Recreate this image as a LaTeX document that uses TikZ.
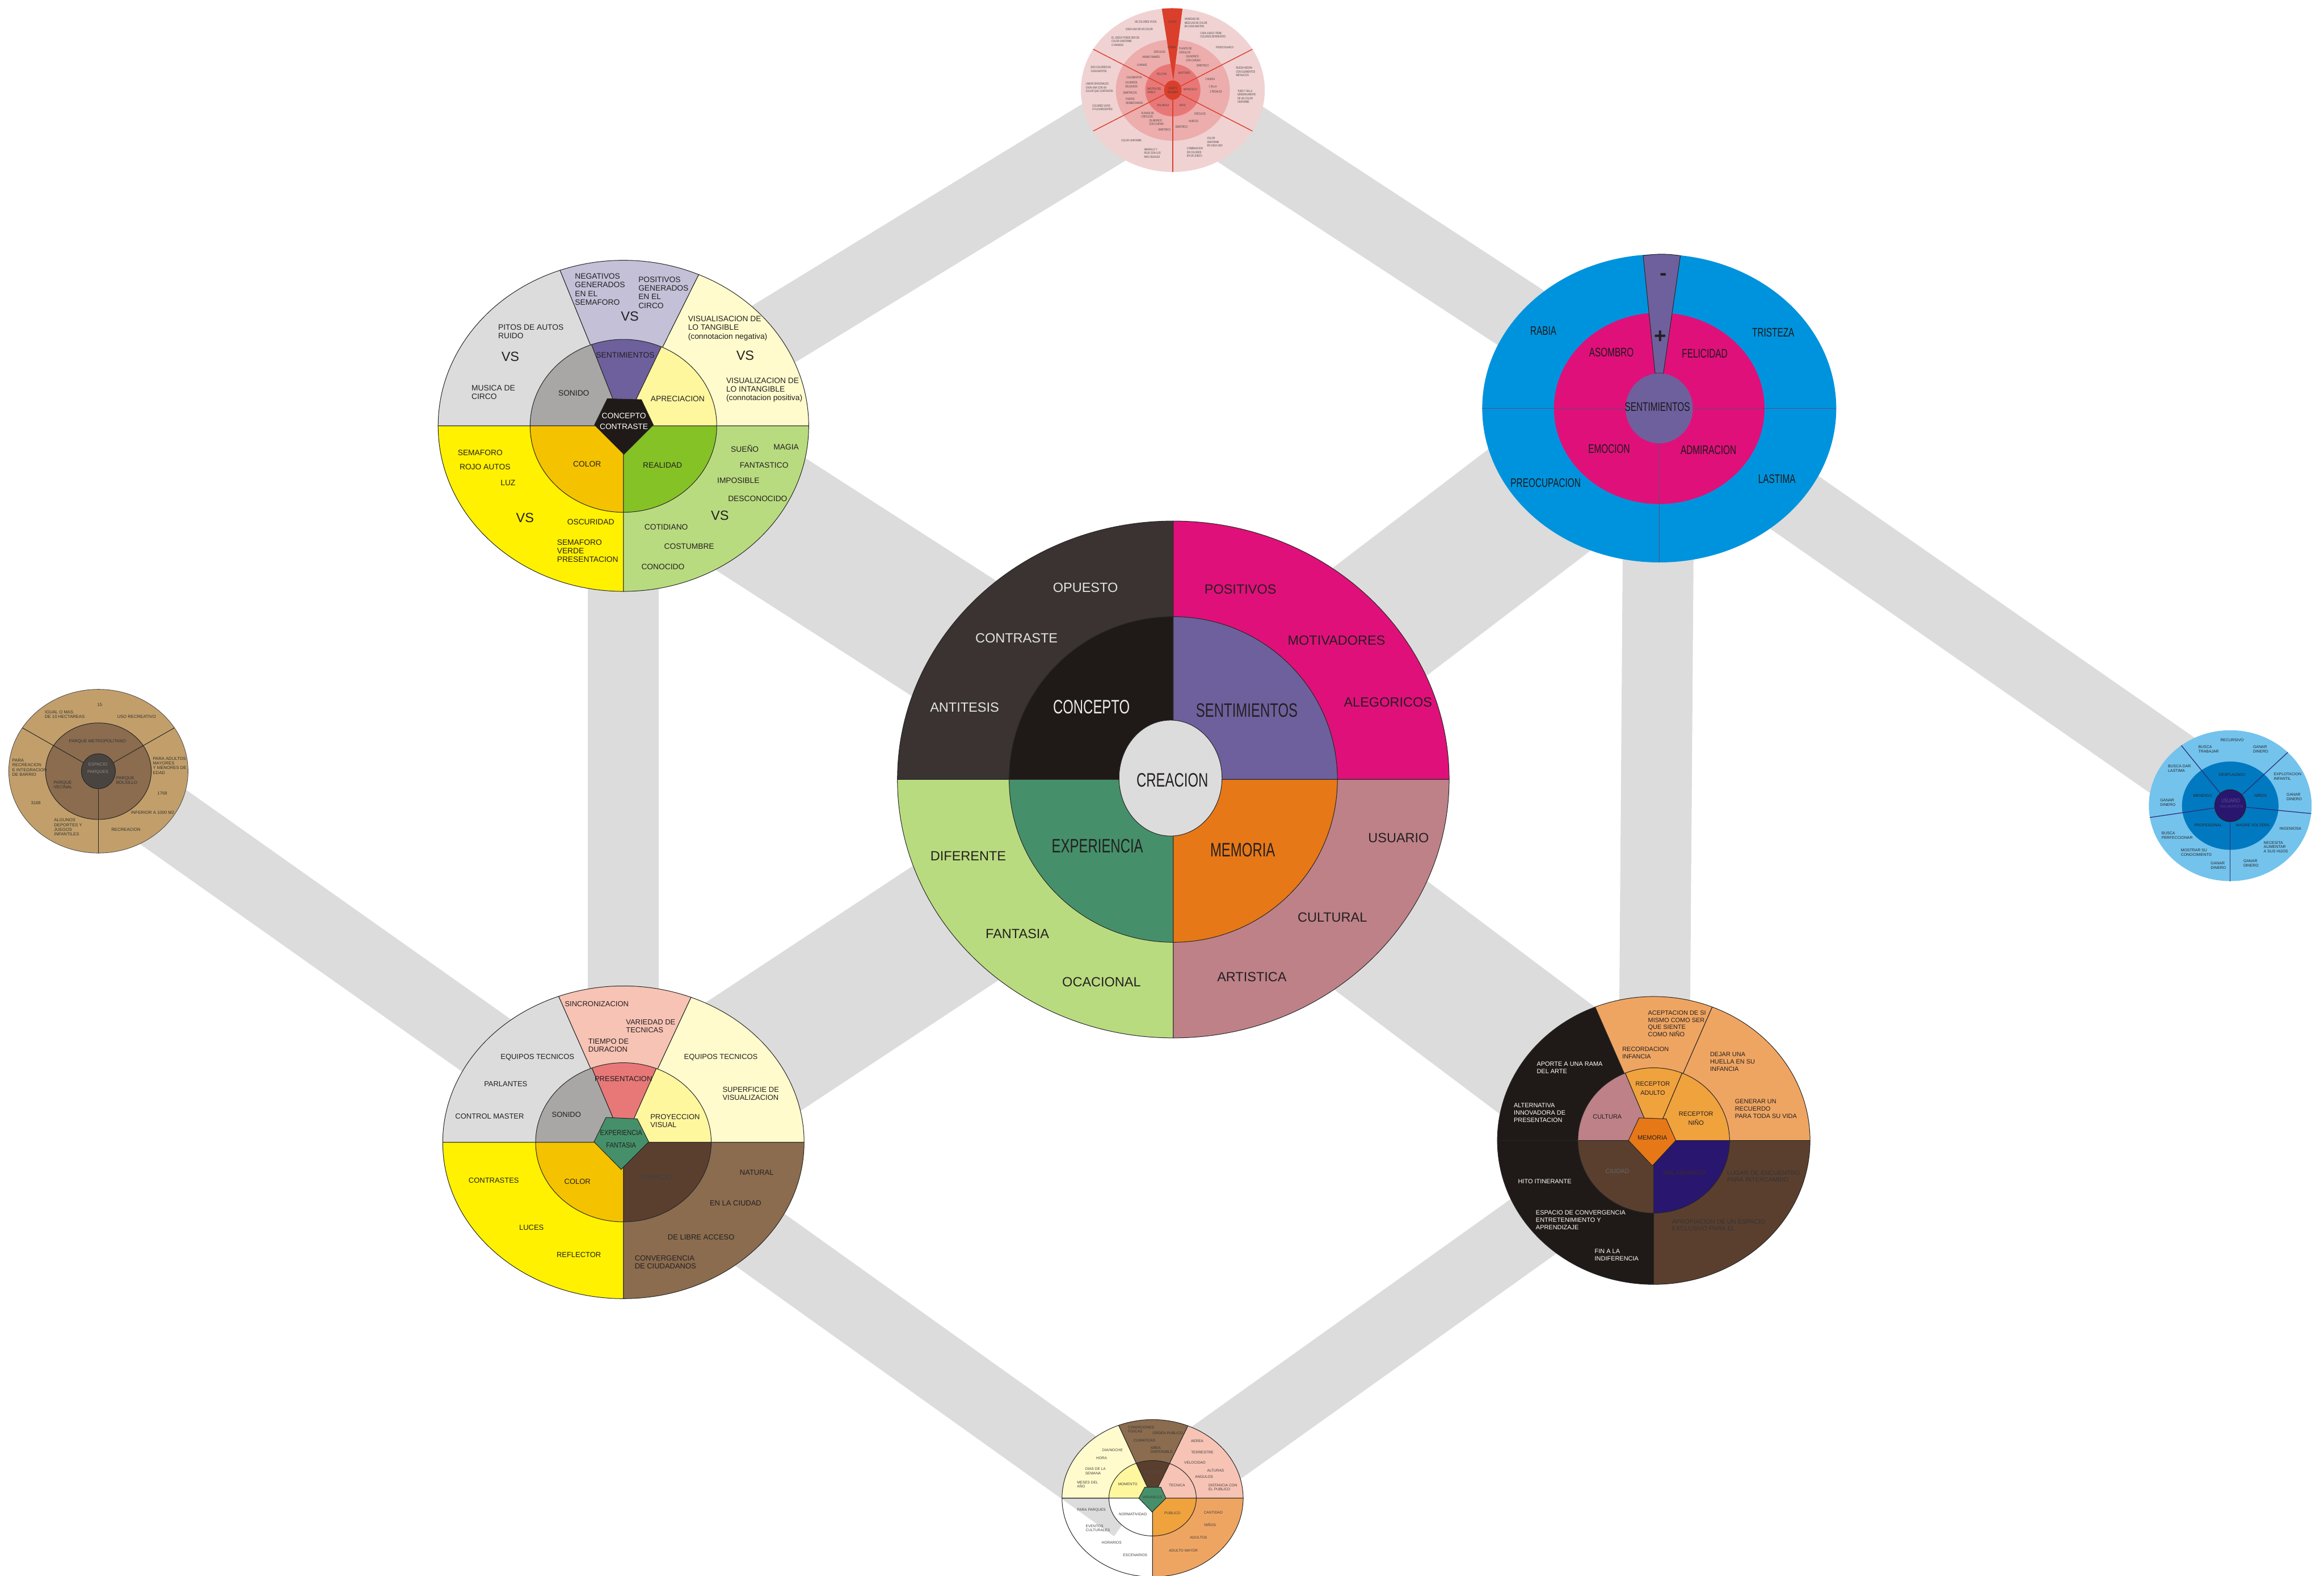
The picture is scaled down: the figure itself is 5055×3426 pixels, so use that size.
\documentclass[tikz,border=0pt]{standalone}
\usepackage{fontspec}
\setmainfont{Liberation Sans}
\newfontfamily\condensed[FakeStretch=0.7]{Liberation Sans}
\newfontfamily\semicondensed[FakeStretch=0.85]{Liberation Sans}

\definecolor{gris}{HTML}{DCDCDC}
\definecolor{grismedio}{HTML}{A8A7A5}
\definecolor{carbon}{HTML}{1F1A17}
\definecolor{pizarra}{HTML}{3A3331}
\definecolor{fucsia}{HTML}{E0107A}
\definecolor{lila}{HTML}{6E609D}
\definecolor{lavanda}{HTML}{C3C0D8}
\definecolor{crema}{HTML}{FFFBCC}
\definecolor{amarillopalido}{HTML}{FFF79E}
\definecolor{amarillo}{HTML}{FFF100}
\definecolor{ambar}{HTML}{F5C200}
\definecolor{verdeclaro}{HTML}{B9DB7F}
\definecolor{verdelima}{HTML}{85C226}
\definecolor{verdemar}{HTML}{45906A}
\definecolor{naranja}{HTML}{E77817}
\definecolor{rosaviejo}{HTML}{BE8188}
\definecolor{salmon}{HTML}{F7C3B4}
\definecolor{coral}{HTML}{E87878}
\definecolor{cafe}{HTML}{8B6C4F}
\definecolor{cafeoscuro}{HTML}{5A3F2F}
\definecolor{durazno}{HTML}{EFA562}
\definecolor{mandarina}{HTML}{F0A23D}
\definecolor{indigo}{HTML}{29166F}
\definecolor{azul}{HTML}{0093DD}
\definecolor{celeste}{HTML}{73C3ED}
\definecolor{azulmedio}{HTML}{0079C1}
\definecolor{rosa}{HTML}{F0D2D2}
\definecolor{rosamedio}{HTML}{ECADAC}
\definecolor{rosafuerte}{HTML}{E87877}
\definecolor{rojo}{HTML}{DA3F2B}
\definecolor{arena}{HTML}{C29F6A}
\definecolor{tierra}{HTML}{4A4440}
\definecolor{tinta}{HTML}{231F20}
\definecolor{marino}{HTML}{2E2F76}

\tikzset{
  rim/.style={draw=black!85, line width=0.35pt},
  band/.style={draw=gris, line width=1.54cm},
  broad band/.style={draw=gris, line width=3.1cm},
  lbl/.style={inner sep=0pt, align=left, text=tinta},
  lft/.style={anchor=west},
  hub/.style={lbl, align=center, font=\condensed\fontsize{12pt}{13pt}\selectfont},
  big/.style={lbl, font=\fontsize{8.25pt}{9.5pt}\selectfont},
  vs/.style={lbl, font=\fontsize{8.25pt}{9pt}\selectfont},
  mid/.style={lbl, font=\fontsize{4.84pt}{5.4pt}\selectfont},
  midb/.style={lbl, font=\fontsize{4.55pt}{4.9pt}\selectfont},
  feel/.style={lbl, text=black!90, font=\condensed\fontsize{7.7pt}{8.5pt}\selectfont},
  mem/.style={lbl, font=\fontsize{3.84pt}{4.5pt}\selectfont},
  juggle/.style={lbl, text=black!75, font=\condensed\fontsize{1.95pt}{2.3pt}\selectfont},
  park/.style={lbl, text=black!80, font=\fontsize{2.7pt}{2.9pt}\selectfont},
  user/.style={lbl, text=black!85, font=\fontsize{2.42pt}{2.75pt}\selectfont},
  vari/.style={lbl, text=black!75, font=\fontsize{2.28pt}{2.56pt}\selectfont},
}

% one ring slice: centre, from, to, x radius, y radius, fill
\newcommand{\wheelslice}[6]{%
  \filldraw[rim, fill=#6] (#1) -- ++(#2:#4 and #5)
    arc[start angle=#2, end angle=#3, x radius=#4, y radius=#5] -- cycle;}

\begin{document}
\begin{tikzpicture}[x=0.01cm, y=0.01cm]
\useasboundingbox (0,0) rectangle (5055,-3426);
\fill[white] (0,0) rectangle (5055,-3426);

% wheel centres
\coordinate (w-creacion) at (2552,-1695);
\coordinate (w-concepto) at (1356,-926);
\coordinate (w-sentimientos) at (3609,-888);
\coordinate (w-experiencia) at (1356,-2484);
\coordinate (w-memoria) at (3597,-2480);
\coordinate (w-objeto) at (2551,-196);
\coordinate (w-parques) at (214,-1677);
\coordinate (w-usuario) at (4851,-1752);
\coordinate (w-variables) at (2507,-3258);
\coordinate (v-fin) at (2468,-3278);

% grey bands behind the wheels
\draw[band] (w-concepto) -- (w-objeto);
\draw[band] (w-objeto) -- (w-sentimientos);
\draw[band] (w-concepto) -- (w-experiencia);
\draw[band] (w-sentimientos) -- (w-memoria);
\draw[band] (w-sentimientos) -- (w-usuario);
\draw[band] (w-parques) -- (w-experiencia);
\draw[band] (w-experiencia) -- (v-fin);
\draw[band] (w-memoria) -- (w-variables);
\draw[broad band] (w-concepto) -- (w-creacion);
\draw[broad band] (w-creacion) -- (w-sentimientos);
\draw[broad band] (w-creacion) -- (w-experiencia);
\draw[broad band] (w-creacion) -- (w-memoria);

% ---- CREACION ----
\foreach \a/\b/\co in {90/180/pizarra, 0/90/fucsia, 180/270/verdeclaro, 270/360/rosaviejo}
  {\wheelslice{w-creacion}{\a}{\b}{600}{562}{\co}}
\foreach \a/\b/\ci in {90/180/carbon, 0/90/lila, 180/270/verdemar, 270/360/naranja}
  {\wheelslice{w-creacion}{\a}{\b}{357}{354}{\ci}}
\filldraw[rim, fill=gris] (2546,-1692) ellipse[x radius=112, y radius=126];

\node[big, text=white!90!black] (c-opuesto) at (2361,-1278) {OPUESTO};
\node[big, text=white!90!black] (c-contraste) at (2211,-1388) {CONTRASTE};
\node[big, text=white!90!black] (c-antitesis) at (2098,-1538) {ANTITESIS};
\node[big] (c-positivos) at (2698,-1281) {POSITIVOS};
\node[big] (c-motivadores) at (2907,-1393) {MOTIVADORES};
\node[big] (c-alegoricos) at (3019,-1527) {ALEGORICOS};
\node[big] (c-usuario) at (3042,-1822) {USUARIO};
\node[big] (c-cultural) at (2898,-1995) {CULTURAL};
\node[big] (c-artistica) at (2723,-2125) {ARTISTICA};
\node[big] (c-diferente) at (2106,-1862) {DIFERENTE};
\node[big] (c-fantasia) at (2213,-2031) {FANTASIA};
\node[big] (c-ocacional) at (2396,-2136) {OCACIONAL};
\node[hub, text=white!92!black] (c-concepto) at (2374,-1537) {CONCEPTO};
\node[hub] (c-sentimientos) at (2712,-1545) {SENTIMIENTOS};
\node[hub] (c-creacion) at (2550,-1696) {CREACION};
\node[hub] (c-experiencia) at (2387,-1840) {EXPERIENCIA};
\node[hub] (c-memoria) at (2703,-1848) {MEMORIA};

% ---- CONCEPTO CONTRASTE ----
\foreach \a/\b/\co in {110/180/gris, 66/110/lavanda, 0/66/crema, 180/270/amarillo, 270/360/verdeclaro}
  {\wheelslice{w-concepto}{\a}{\b}{403}{360}{\co}}
\foreach \a/\b/\ci in {110/180/grismedio, 66/110/lila, 0/66/amarillopalido, 180/270/ambar, 270/360/verdelima}
  {\wheelslice{w-concepto}{\a}{\b}{203}{188}{\ci}}
\filldraw[rim, fill=carbon, shift={(w-concepto)}] (-63,2) -- (-35,59) -- (39,57) -- (65,2) -- (1,-62) -- cycle;

\node[mid, lft] (a-negativos) at (1250,-629) {NEGATIVOS\\GENERADOS\\EN EL\\SEMAFORO};
\node[mid, lft] (a-positivos) at (1388,-636) {POSITIVOS\\GENERADOS\\EN EL\\CIRCO};
\node[vs] (a-vs1) at (1370,-688) {VS};
\node[mid, lft] (a-pitos) at (1083,-721) {PITOS DE AUTOS\\RUIDO};
\node[vs] (a-vs2) at (1110,-776) {VS};
\node[mid, lft] (a-musica) at (1025,-853) {MUSICA DE\\CIRCO};
\node[mid] (a-sentimientos) at (1360,-772) {SENTIMIENTOS};
\node[mid] (a-sonido) at (1248,-855) {SONIDO};
\node[mid] (a-apreciacion) at (1474,-867) {APRECIACION};
\node[mid, lft] (a-tangible) at (1496,-714) {VISUALISACION DE\\LO TANGIBLE\\(connotacion negativa)};
\node[vs] (a-vs3) at (1621,-773) {VS};
\node[mid, lft] (a-intangible) at (1579,-848) {VISUALIZACION DE\\LO INTANGIBLE\\(connotacion positiva)};
\node[mid, align=center, text=white, font=\fontsize{4.84pt}{6.8pt}\selectfont] (a-core) at (1357,-916) {CONCEPTO\\CONTRASTE};
\node[mid, lft] (a-semaforo) at (995,-985) {SEMAFORO};
\node[mid, lft] (a-rojo) at (999,-1015) {ROJO AUTOS};
\node[mid] (a-luz) at (1105,-1050) {LUZ};
\node[mid] (a-color) at (1277,-1009) {COLOR};
\node[vs] (a-vs4) at (1142,-1126) {VS};
\node[mid] (a-oscuridad) at (1285,-1135) {OSCURIDAD};
\node[mid, lft] (a-verde) at (1211,-1198) {SEMAFORO\\VERDE\\PRESENTACION};
\node[mid] (a-realidad) at (1441,-1012) {REALIDAD};
\node[mid] (a-sueno) at (1620,-975) {SUEÑO};
\node[mid] (a-magia) at (1710,-972) {MAGIA};
\node[mid] (a-fantastico) at (1662,-1012) {FANTASTICO};
\node[mid] (a-imposible) at (1606,-1045) {IMPOSIBLE};
\node[mid] (a-desconocido) at (1648,-1084) {DESCONOCIDO};
\node[vs] (a-vs5) at (1566,-1121) {VS};
\node[mid] (a-cotidiano) at (1449,-1146) {COTIDIANO};
\node[mid] (a-costumbre) at (1499,-1188) {COSTUMBRE};
\node[mid] (a-conocido) at (1442,-1233) {CONOCIDO};

% ---- SENTIMIENTOS ----
\fill[azul] (w-sentimientos) ellipse[x radius=385, y radius=335];
\fill[fucsia] (w-sentimientos) ellipse[x radius=229, y radius=208];
\draw[lila!80!black, line width=0.4pt] (w-sentimientos) ++(-385,0) -- ++(770,0);
\draw[lila!80!black, line width=0.4pt] (w-sentimientos) -- ++(0,-335);
\filldraw[rim, fill=lila] (3600,-812) -- (3574,-556) to[bend left=8] (3655,-556) -- (3618,-812) -- cycle;
\fill[lila] (w-sentimientos) ellipse[x radius=73, y radius=76];

\node[feel] (b-rabia) at (3357,-720) {RABIA};
\node[feel] (b-tristeza) at (3857,-723) {TRISTEZA};
\node[feel] (b-asombro) at (3505,-766) {ASOMBRO};
\node[feel] (b-felicidad) at (3708,-769) {FELICIDAD};
\node[feel] (b-sentimientos) at (3605,-885) {SENTIMIENTOS};
\node[feel] (b-emocion) at (3500,-976) {EMOCION};
\node[feel] (b-admiracion) at (3716,-978) {ADMIRACION};
\node[feel] (b-preocupacion) at (3362,-1050) {PREOCUPACION};
\node[feel] (b-lastima) at (3865,-1042) {LASTIMA};
\node[lbl, font=\fontsize{13pt}{14pt}\selectfont\bfseries] (b-menos) at (3618,-602) {-};
\node[lbl, font=\fontsize{13pt}{14pt}\selectfont\bfseries] (b-mas) at (3611,-733) {+};

% ---- EXPERIENCIA FANTASIA ----
\foreach \a/\b/\co in {111/180/gris, 68/111/salmon, 0/68/crema, 180/270/amarillo, 270/360/cafe}
  {\wheelslice{w-experiencia}{\a}{\b}{393}{340}{\co}}
\foreach \a/\b/\ci in {111/180/grismedio, 68/111/coral, 0/68/amarillopalido, 180/270/ambar, 270/360/cafeoscuro}
  {\wheelslice{w-experiencia}{\a}{\b}{191}{173}{\ci}}
\filldraw[rim, fill=verdemar, shift={(w-experiencia)}] (-64,1) -- (-38,54) -- (30,51) -- (55,1) -- (-5,-59) -- cycle;

\node[midb] (e-sincronizacion) at (1298,-2183) {SINCRONIZACION};
\node[midb, lft] (e-variedad) at (1361,-2231) {VARIEDAD DE\\TECNICAS};
\node[midb, lft] (e-tiempo) at (1279,-2273) {TIEMPO DE\\DURACION};
\node[midb] (e-equipos1) at (1169,-2299) {EQUIPOS TECNICOS};
\node[midb] (e-parlantes) at (1100,-2357) {PARLANTES};
\node[midb] (e-control) at (1065,-2428) {CONTROL MASTER};
\node[midb] (e-sonido) at (1232,-2424) {SONIDO};
\node[midb] (e-presentacion) at (1356,-2346) {PRESENTACION};
\node[midb, lft] (e-proyeccion) at (1414,-2437) {PROYECCION\\VISUAL};
\node[midb] (e-equipos2) at (1568,-2299) {EQUIPOS TECNICOS};
\node[midb, lft] (e-superficie) at (1571,-2378) {SUPERFICIE DE\\VISUALIZACION};
\node[midb, align=center, font=\semicondensed\fontsize{4.55pt}{7.7pt}\selectfont] (e-core) at (1351,-2477) {EXPERIENCIA\\FANTASIA};
\node[midb] (e-contrastes) at (1074,-2567) {CONTRASTES};
\node[midb] (e-color) at (1256,-2569) {COLOR};
\node[midb, text=black!75] (e-espacio) at (1428,-2559) {ESPACIO};
\node[midb] (e-natural) at (1646,-2550) {NATURAL};
\node[midb] (e-ciudad) at (1600,-2616) {EN LA CIUDAD};
\node[midb] (e-luces) at (1156,-2670) {LUCES};
\node[midb] (e-libre) at (1525,-2691) {DE LIBRE ACCESO};
\node[midb] (e-reflector) at (1259,-2729) {REFLECTOR};
\node[midb, lft] (e-convergencia) at (1380,-2745) {CONVERGENCIA\\DE CIUDADANOS};

% ---- MEMORIA ----
\foreach \a/\b/\co in {112/180/carbon, 68/112/durazno, 0/68/durazno, 180/270/carbon, 270/360/cafeoscuro}
  {\wheelslice{w-memoria}{\a}{\b}{340}{313}{\co}}
\foreach \a/\b/\ci in {112/180/rosaviejo, 68/112/mandarina, 0/68/mandarina, 180/270/cafeoscuro, 270/360/indigo}
  {\wheelslice{w-memoria}{\a}{\b}{165}{158}{\ci}}
\filldraw[rim, fill=naranja, shift={(w-memoria)}] (-55,0) -- (-32,49) -- (27,47) -- (48,0) -- (-3,-55) -- cycle;

\node[mem, lft] (m-aceptacion) at (3584,-2226) {ACEPTACION DE SI\\MISMO COMO SER\\QUE SIENTE\\COMO NIÑO};
\node[mem, lft] (m-recordacion) at (3528,-2290) {RECORDACION\\INFANCIA};
\node[mem, lft] (m-huella) at (3719,-2309) {DEJAR UNA\\HUELLA EN SU\\INFANCIA};
\node[mem, lft, text=white] (m-aporte) at (3342,-2322) {APORTE A UNA RAMA\\DEL ARTE};
\node[mem, align=center, font=\fontsize{3.84pt}{5.7pt}\selectfont] (m-adulto) at (3595,-2367) {RECEPTOR\\ADULTO};
\node[mem] (m-cultura) at (3496,-2428) {CULTURA};
\node[mem, align=center, font=\fontsize{3.84pt}{5.4pt}\selectfont] (m-nino) at (3689,-2432) {RECEPTOR\\NIÑO};
\node[mem, lft] (m-generar) at (3773,-2411) {GENERAR UN\\RECUERDO\\PARA TODA SU VIDA};
\node[mem, lft, text=white] (m-alternativa) at (3292,-2420) {ALTERNATIVA\\INNOVADORA DE\\PRESENTACION};
\node[mem] (m-memoria) at (3594,-2474) {MEMORIA};
\node[mem, text=black!60] (m-ciudad) at (3518,-2547) {CIUDAD};
\node[mem, text=cafeoscuro!70!black] (m-malabarista) at (3664,-2550) {MALABARISTA};
\node[mem, text=white] (m-hito) at (3360,-2569) {HITO ITINERANTE};
\node[mem, lft, text=black!80] (m-lugar) at (3756,-2558) {LUGAR DE ENCUENTRO\\PARA INTERCAMBIO};
\node[mem, lft, text=white] (m-espacio) at (3340,-2653) {ESPACIO DE CONVERGENCIA\\ENTRETENIMIENTO Y\\APRENDIZAJE};
\node[mem, lft, text=black!80] (m-apropiacion) at (3636,-2664) {APROPIACION DE UN ESPACIO\\EXCLUSIVO PARA EL};
\node[mem, lft, text=white] (m-fin) at (3468,-2729) {FIN A LA\\INDIFERENCIA};

% ---- OBJETO MALABAR ----
\fill[rosa] (w-objeto) ellipse[x radius=200, y radius=178];
\fill[rosamedio] (w-objeto) ellipse[x radius=124, y radius=110];
\fill[rosafuerte] (w-objeto) ellipse[x radius=60, y radius=57];
\foreach \a in {30,150,210,270,330}
  {\draw[rojo, line width=0.5pt] (w-objeto) -- ++(\a:200 and 178);}
\fill[rojo] (2552,-175) -- (2527,-19) to[bend left=5] (2572,-19) -- cycle;
\fill[rojo] (w-objeto) ellipse[x radius=19, y radius=21];

\node[juggle] (o-color) at (2550,-48) {COLOR};
\node[juggle] (o-forma) at (2549,-103) {FORMA};
\node[juggle] (o-vivos) at (2492,-48) {DE COLORES VIVOS};
\node[juggle] (o-cada) at (2478,-64) {CADA UNA DE UN COLOR};
\node[juggle, lft] (o-juego) at (2417,-90) {EL JUEGO PUEDE SER DE\\COLOR UNIFORME\\O VARIADO};
\node[juggle, lft] (o-mezclas) at (2576,-50) {VARIEDAD DE\\MEZCLAS DE COLOR\\EN CADA BASTON};
\node[juggle, lft] (o-tiene) at (2610,-76) {CADA JUEGO TIENE\\COLORES DIFERENTES};
\node[juggle] (o-fondo) at (2664,-103) {FONDO BLANCO};
\node[juggle] (o-circulos1) at (2522,-113) {CIRCULOS};
\node[juggle, lft] (o-planos1) at (2564,-110) {PLANOS DE\\CIRCULOS};
\node[juggle] (o-tamano) at (2504,-124) {MISMO TAMAÑO};
\node[juggle, lft] (o-cilindrico1) at (2579,-127) {CILINDRICO\\CON CURVAS};
\node[juggle] (o-livianas) at (2484,-141) {LIVIANAS};
\node[juggle] (o-simetrico1) at (2616,-143) {SIMETRICO};
\node[juggle, lft] (o-dos) at (2372,-151) {DOS COLORES EN\\CADA BASTON};
\node[juggle, lft] (o-rueda) at (2688,-156) {RUEDA NEGRA\\CON ELEMENTOS\\METALICOS};
\node[juggle] (o-pelotas) at (2527,-161) {PELOTAS};
\node[juggle] (o-bastones) at (2576,-159) {BASTONES};
\node[juggle] (o-tres) at (2467,-169) {3 ELEMENTOS};
\node[juggle] (o-unarueda) at (2632,-172) {1 RUEDA};
\node[juggle, lft] (o-cilindros) at (2447,-184) {CILINDROS\\DELGADOS};
\node[juggle, lft] (o-lineas) at (2361,-191) {LINEAS DIAGONALES\\CADA UNA CON UN\\COLOR QUE CONTRASTA};
\node[juggle] (o-silla) at (2638,-188) {1 SILLA};
\node[juggle, lft] (o-diablo) at (2495,-197) {BASTON DEL\\DIABLO};
\node[juggle, align=center] (o-objeto) at (2551,-196) {OBJETO\\MALABAR};
\node[juggle] (o-monociclo) at (2589,-194) {MONOCICLO};
\node[juggle] (o-pedales) at (2645,-199) {2 PEDALES};
\node[juggle, lft] (o-tubo) at (2691,-210) {TUBO Y SILLA\\GENERALMENTE\\DE UN COLOR\\UNIFORME};
\node[juggle] (o-simetricos) at (2458,-202) {SIMETRICOS};
\node[juggle, lft] (o-puntas) at (2448,-220) {PUNTAS\\DESMECHADAS};
\node[juggle] (o-rolabola) at (2530,-229) {ROLABOLA};
\node[juggle] (o-aros) at (2572,-229) {AROS};
\node[juggle, lft] (o-flourecentes) at (2375,-234) {COLORES VIVOS\\O FLOURECENTES};
\node[juggle, lft] (o-planos2) at (2482,-250) {PLANOS DE\\CIRCULOS};
\node[juggle] (o-circulos2) at (2610,-247) {CIRCULOS};
\node[juggle, lft] (o-cilindrico2) at (2499,-266) {CILINDRICO\\CON CURVAS};
\node[juggle] (o-huecos) at (2596,-263) {HUECOS};
\node[juggle] (o-simetrico2) at (2533,-282) {SIMETRICO};
\node[juggle] (o-simetrico3) at (2570,-276) {SIMETRICO};
\node[juggle] (o-uniforme) at (2461,-306) {COLOR UNIFORME};
\node[juggle, lft] (o-cadauno) at (2625,-309) {COLOR\\UNIFORME\\EN CADA UNO};
\node[juggle, lft] (o-amarillo) at (2488,-333) {AMARILLO Y\\ROJO SON LOS\\MAS USUALES};
\node[juggle, lft] (o-combinacion) at (2581,-331) {COMBINACION\\DE COLORES\\EN UN JUEGO};

% ---- ESPACIO PARQUES ----
\filldraw[fill=arena, draw=black!70, line width=0.3pt] (w-parques) ellipse[x radius=195, y radius=178];
\filldraw[rim, fill=cafe] (w-parques) ellipse[x radius=115, y radius=105];
\foreach \a in {32,148,270}
  {\draw[rim] (w-parques) -- ++(\a:195 and 178);}
\filldraw[rim, fill=tierra] (w-parques) ellipse[x radius=37, y radius=38];

\node[park] (p-quince) at (217,-1533) {15};
\node[park, lft] (p-igual) at (97,-1554) {IGUAL O MAS\\DE 10 HECTAREAS};
\node[park] (p-uso) at (297,-1559) {USO RECREATIVO};
\node[park] (p-metro) at (212,-1613) {PARQUE METROPOLITANO};
\node[park, lft] (p-barrio) at (26,-1669) {PARA\\RECREACION\\E INTEGRACION\\DE BARRIO};
\node[park, align=center, text=black!45, font=\fontsize{2.7pt}{4.55pt}\selectfont] (p-espacio) at (213,-1671) {ESPACIO\\PARQUES};
\node[park, lft] (p-adultos) at (332,-1665) {PARA ADULTOS\\MAYORES\\Y MENORES DE\\EDAD};
\node[park, lft] (p-bolsillo) at (252,-1697) {PARQUE\\BOLSILLO};
\node[park, lft] (p-vecinal) at (116,-1707) {PARQUE\\VECINAL};
\node[park] (p-mil) at (353,-1725) {1768};
\node[park] (p-tres) at (78,-1746) {3168};
\node[park] (p-inferior) at (332,-1767) {INFERIOR A 1000 M2};
\node[park, lft] (p-algunos) at (117,-1799) {ALGUNOS\\DEPORTES Y\\JUEGOS\\INFANTILES};
\node[park] (p-recreacion) at (274,-1804) {RECREACION};

% ---- USUARIO MALABARISTA ----
\fill[celeste] (w-usuario) ellipse[x radius=177, y radius=164];
\fill[azulmedio] (w-usuario) ellipse[x radius=105, y radius=96];
\foreach \a in {45,127,189,270,354}
  {\draw[marino, line width=0.45pt] (w-usuario) -- ++(\a:177 and 164);}
\filldraw[rim, fill=indigo] (w-usuario) ellipse[x radius=34, y radius=35];

\node[user] (u-recursivo) at (4855,-1609) {RECURSIVO};
\node[user, lft] (u-trabajar) at (4781,-1629) {BUSCA\\TRABAJAR};
\node[user, lft] (u-dinero1) at (4900,-1629) {GANAR\\DINERO};
\node[user, lft] (u-lastima) at (4715,-1671) {BUSCA DAR\\LASTIMA};
\node[user] (u-desplazado) at (4855,-1685) {DESPLAZADO};
\node[user, lft] (u-explotacion) at (4945,-1688) {EXPLOTACION\\INFANTIL};
\node[user] (u-mendigo) at (4791,-1730) {MENDIGO};
\node[user] (u-ninos) at (4917,-1729) {NIÑOS};
\node[user, lft] (u-dinero2) at (4973,-1733) {GANAR\\DINERO};
\node[lbl, text=lila!80!indigo, font=\condensed\fontsize{3.6pt}{4pt}\selectfont] (u-usuario) at (4852,-1741) {USUARIO};
\node[lbl, text=lila!60!indigo, font=\semicondensed\fontsize{2.42pt}{2.75pt}\selectfont] (u-malabarista) at (4854,-1754) {MALABARISTA};
\node[user, lft] (u-dinero3) at (4698,-1745) {GANAR\\DINERO};
\node[user] (u-profesional) at (4803,-1794) {PROFESIONAL};
\node[user] (u-madre) at (4900,-1794) {MADRE SOLTERA};
\node[user] (u-ingeniosa) at (4982,-1802) {INGENIOSA};
\node[user, lft] (u-perfeccionar) at (4701,-1817) {BUSCA\\PERFECCIONAR};
\node[user, lft] (u-necesita) at (4923,-1842) {NECESITA\\ALIMENTAR\\A SUS HIJOS};
\node[user, lft] (u-mostrar) at (4743,-1854) {MOSTRAR SU\\CONOCIMIENTO};
\node[user, lft] (u-dinero4) at (4808,-1882) {GANAR\\DINERO};
\node[user, lft] (u-dinero5) at (4879,-1877) {GANAR\\DINERO};

% ---- VARIABLES ----
\foreach \a/\b/\co in {112/180/crema, 67/112/cafe, 0/67/salmon, 180/270/none, 270/360/durazno}
  {\wheelslice{w-variables}{\a}{\b}{197}{171}{\co}}
\foreach \a/\b/\ci in {112/180/amarillopalido, 67/112/cafeoscuro, 0/67/salmon, 180/270/white, 270/360/mandarina}
  {\wheelslice{w-variables}{\a}{\b}{95}{82}{\ci}}
\filldraw[rim, fill=verdemar, shift={(w-variables)}] (-30,0) -- (-17,24) -- (18,24) -- (29,0) -- (-1,-30) -- cycle;

\node[vari, lft, text=black!80] (v-condiciones) at (2453,-3108) {CONDICIONES\\FISICAS};
\node[vari, text=black!80] (v-orden) at (2540,-3117) {ORDEN PUBLICO};
\node[vari, text=black!80] (v-climaticas) at (2489,-3132) {CLIMATICAS};
\node[vari, lft, text=black!80] (v-area) at (2502,-3153) {AREA\\DISPONIBLE};
\node[vari] (v-aerea) at (2604,-3134) {AEREA};
\node[vari] (v-terrestre) at (2615,-3159) {TERRESTRE};
\node[vari] (v-velocidad) at (2599,-3181) {VELOCIDAD};
\node[vari] (v-alturas) at (2644,-3198) {ALTURAS};
\node[vari] (v-angulos) at (2619,-3211) {ANGULOS};
\node[vari, lft] (v-distancia) at (2628,-3234) {DISTANCIA CON\\EL PUBLICO};
\node[vari] (v-dia) at (2420,-3153) {DIA/NOCHE};
\node[vari] (v-hora) at (2396,-3171) {HORA};
\node[vari, lft] (v-dias) at (2360,-3199) {DIAS DE LA\\SEMANA};
\node[vari, lft] (v-meses) at (2342,-3228) {MESES DEL\\AÑO};
\node[vari] (v-momento) at (2453,-3228) {MOMENTO};
\node[vari, text=black!70] (v-espacio) at (2507,-3201) {ESPACIO};
\node[vari] (v-tecnica) at (2560,-3230) {TECNICA};
\node[vari] (v-core) at (2506,-3256) {VARIABLES};
\node[vari] (v-parques) at (2374,-3284) {PARA PARQUES};
\node[vari] (v-norma) at (2464,-3293) {NORMATIVIDAD};
\node[vari] (v-publico) at (2550,-3290) {PUBLICO};
\node[vari] (v-cantidad) at (2639,-3289) {CANTIDAD};
\node[vari, lft] (v-eventos) at (2361,-3323) {EVENTOS\\CULTURALES};
\node[vari] (v-ninos) at (2632,-3316) {NIÑOS};
\node[vari] (v-horarios) at (2418,-3355) {HORARIOS};
\node[vari] (v-adultos) at (2607,-3343) {ADULTOS};
\node[vari] (v-escenarios) at (2469,-3382) {ESCENARIOS};
\node[vari] (v-mayor) at (2574,-3372) {ADULTO MAYOR};
\end{tikzpicture}
\end{document}
